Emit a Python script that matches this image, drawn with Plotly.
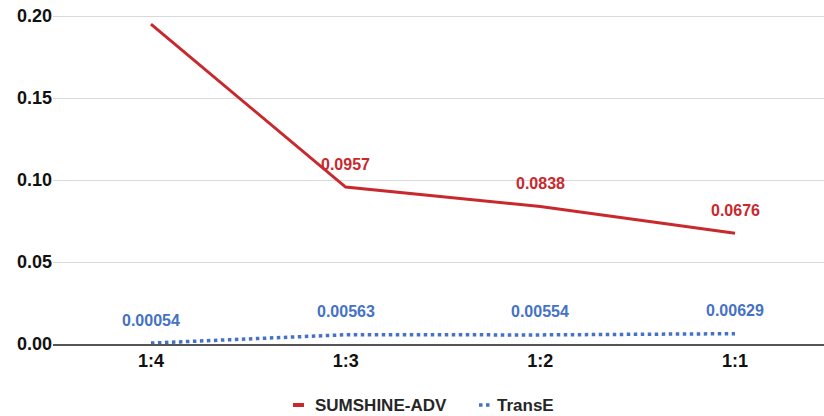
import plotly.graph_objects as go

categories = ["1:4", "1:3", "1:2", "1:1"]
sumshine = [0.195, 0.0957, 0.0838, 0.0676]
sumshine_labels = ["", "0.0957", "0.0838", "0.0676"]
transe = [0.00054, 0.00563, 0.00554, 0.00629]
transe_labels = ["0.00054", "0.00563", "0.00554", "0.00629"]
y_ticks = [0.0, 0.05, 0.10, 0.15, 0.20]
y_tick_text = ["0.00", "0.05", "0.10", "0.15", "0.20"]
series_names = ["SUMSHINE-ADV", "TransE"]

RED = "#C9282D"
BLUE = "#4472C4"
FONT = "Liberation Sans, Arial, sans-serif"

W, H = 824, 416
ML, MR, MT = 53, 0, 8
MB = H - 344
PW, PH = W - ML - MR, H - MT - MB
Y_TOP = 0.2 * PH / (PH - 8)   # 0.20 gridline lands at y=16

def px_x(x):
    return (x - ML) / PW

def px_y(y):
    return (H - MB - y) / PH

fig = go.Figure()
fig.add_trace(go.Scatter(x=categories, y=sumshine, mode="lines", name=series_names[0],
                         line=dict(color=RED, width=3), showlegend=False))
fig.add_trace(go.Scatter(x=categories, y=transe, mode="lines", name=series_names[1],
                         line=dict(color=BLUE, width=3.5, dash="dot"), showlegend=False))

for c, v, t in zip(categories, sumshine, sumshine_labels):
    if t:
        fig.add_annotation(x=c, y=v, text=t, showarrow=False, yshift=23,
                           font=dict(family=FONT, size=16, color=RED, weight="bold"))
for c, v, t in zip(categories, transe, transe_labels):
    fig.add_annotation(x=c, y=v, text=t, showarrow=False, yshift=23,
                       font=dict(family=FONT, size=16, color=BLUE, weight="bold"))

# custom legend (short symbols as in the reference)
leg_y = px_y(405)
fig.add_shape(type="line", xref="paper", yref="paper",
              x0=px_x(293), x1=px_x(304), y0=leg_y, y1=leg_y,
              line=dict(color=RED, width=4))
fig.add_shape(type="line", xref="paper", yref="paper",
              x0=px_x(479), x1=px_x(492), y0=leg_y, y1=leg_y,
              line=dict(color=BLUE, width=3.5, dash="dot"))
fig.add_annotation(xref="paper", yref="paper", x=px_x(313), y=leg_y, xanchor="left",
                   yanchor="middle", text=series_names[0], showarrow=False,
                   font=dict(family=FONT, size=17, color="#262626", weight="bold"))
fig.add_annotation(xref="paper", yref="paper", x=px_x(495), y=leg_y, xanchor="left",
                   yanchor="middle", text=series_names[1], showarrow=False,
                   font=dict(family=FONT, size=17, color="#262626", weight="bold"))

fig.update_layout(
    width=W, height=H,
    margin=dict(l=ML, r=MR, t=MT, b=MB, autoexpand=False),
    plot_bgcolor="white", paper_bgcolor="white",
    font=dict(family=FONT, color="#222222"),
    showlegend=False,
    xaxis=dict(type="category", range=[-0.503, 3.457], showgrid=False,
               showline=True, linecolor="#555555", linewidth=1.5,
               tickfont=dict(family=FONT, size=18, color="#111111", weight="bold"),
               ticks="", zeroline=False, automargin=False),
    yaxis=dict(range=[0, Y_TOP], tickvals=y_ticks, ticktext=y_tick_text,
               showgrid=True, gridcolor="#D9D9D9", gridwidth=1,
               zeroline=False, showline=False, ticks="", automargin=False,
               tickfont=dict(family=FONT, size=18, color="#111111", weight="bold")),
)

fig.write_html("out.html", config={"displayModeBar": False},
               post_script="document.body.style.margin='0';document.body.style.overflow='hidden';")
